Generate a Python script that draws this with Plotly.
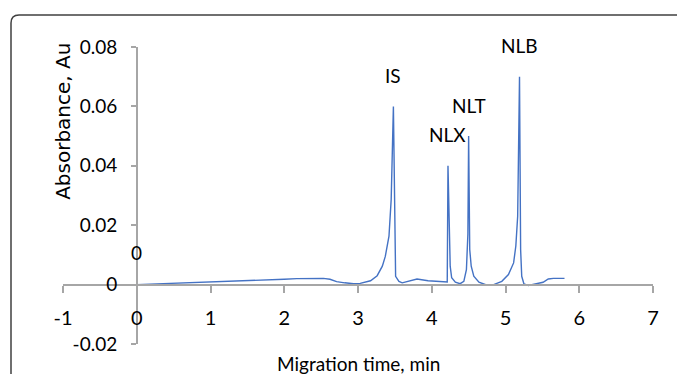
import plotly.graph_objects as go

# ---- data ----
time_min = [0, 0.5, 1.0, 1.5, 1.72, 2.0, 2.17, 2.4, 2.53, 2.62,
            2.71, 2.82, 2.94, 3.03, 3.17, 3.26, 3.33, 3.37, 3.42, 3.45,
            3.48, 3.51, 3.555, 3.60, 3.70, 3.80, 3.95, 4.10, 4.21, 4.22,
            4.235, 4.25, 4.27, 4.32, 4.385, 4.435, 4.47, 4.49, 4.50, 4.515,
            4.535, 4.57, 4.64, 4.75, 4.84, 4.95, 5.04, 5.11, 5.14, 5.165,
            5.19, 5.205, 5.22, 5.25, 5.31, 5.42, 5.51, 5.58, 5.65, 5.80]
absorbance = [0, 0.0004, 0.0008, 0.0012, 0.0016, 0.0018, 0.002, 0.002, 0.0021, 0.0018,
              0.001, 0.0006, 0.0003, 0.0004, 0.0013, 0.003, 0.0062, 0.0095, 0.0163, 0.0287,
              0.06, 0.0028, 0.0011, 0.0006, 0.0012, 0.0019, 0.0013, 0.001, 0.0009, 0.04,
              0.023, 0.0062, 0.0023, 0.0008, 0.0003, 0.0011, 0.005, 0.017, 0.05, 0.0118,
              0.0062, 0.0028, 0.0008, -0.0002, 0.0, 0.0011, 0.0034, 0.0073, 0.013, 0.023,
              0.07, 0.0118, 0.0028, 0.0002, -0.0003, 0.0002, 0.0008, 0.0019, 0.0021, 0.0021]

peak_names = ["IS", "NLX", "NLT", "NLB"]
peak_times = [3.48, 4.22, 4.50, 5.19]
peak_heights = [0.06, 0.04, 0.05, 0.07]

x_ticks = [-1, 0, 1, 2, 3, 4, 5, 6, 7]
x_tick_labels = ["-1", "0", "1", "2", "3", "4", "5", "6", "7"]
y_ticks = [-0.02, 0, 0.02, 0.04, 0.06, 0.08]
y_tick_labels = ["-0.02", "0", "0.02", "0.04", "0.06", "0.08"]

TICK_FONT = "Lato, Carlito, Calibri, sans-serif"
AXIS_COLOR = "#a6a6a6"

fig = go.Figure()
fig.add_trace(go.Scatter(
    x=time_min, y=absorbance, mode="lines",
    line=dict(color="#4472C4", width=1.4),
    showlegend=False, hoverinfo="skip",
))

annotations = []
for name, t, h in zip(peak_names, peak_times, peak_heights):
    annotations.append(dict(x=t, y=h, xref="x", yref="y", text=name, showarrow=False,
                            yshift=31, xanchor="center", yanchor="middle",
                            font=dict(family=TICK_FONT, size=19, color="#000")))
# data label "0" on the first point
annotations.append(dict(x=time_min[0], y=absorbance[0], xref="x", yref="y", text="0",
                        showarrow=False, yshift=32, xanchor="center", yanchor="middle",
                        font=dict(family=TICK_FONT, size=19, color="#000")))
# axis titles
annotations.append(dict(x=0.5, y=-0.02, xref="paper", yref="y", text="Migration time, min",
                        showarrow=False, yshift=-19, xanchor="center", yanchor="middle",
                        font=dict(family=TICK_FONT, size=19, color="#000")))
annotations.append(dict(x=0.0, y=0.748, xref="paper", yref="paper", text="Absorbance, Au",
                        showarrow=False, textangle=-90, xanchor="center", yanchor="middle",
                        font=dict(family="DejaVu Sans, Verdana, sans-serif", size=20, color="#000")))

# rounded frame (top-left corner visible, continues past right/bottom edges)
W, H = 590, 297
L, T = 11, 15
r = 8
def px(xp):
    return (xp - 63) / W
def py(yp):
    return (344 - yp) / H
frame_path = (f"M {px(L)},{py(400)} L {px(L)},{py(T + r)} "
              f"Q {px(L)},{py(T)} {px(L + r)},{py(T)} L {px(700)},{py(T)}")

fig.update_layout(
    width=677, height=374,
    margin=dict(l=63, r=24, t=47, b=30),
    paper_bgcolor="white", plot_bgcolor="white",
    xaxis=dict(range=[-1, 7], tickvals=x_ticks, ticktext=x_tick_labels,
               anchor="free", position=0.2, showgrid=False, zeroline=False,
               showline=True, linecolor=AXIS_COLOR, linewidth=2,
               ticks="outside", ticklen=7, tickwidth=1.5, tickcolor=AXIS_COLOR,
               ticklabelstandoff=8,
               tickfont=dict(family=TICK_FONT, size=20, color="#000")),
    yaxis=dict(range=[-0.02, 0.08], tickvals=y_ticks, ticktext=y_tick_labels,
               anchor="free", position=0.125, showgrid=False, zeroline=False,
               showline=True, linecolor=AXIS_COLOR, linewidth=1.5,
               ticks="outside", ticklen=5, tickwidth=1.5, tickcolor=AXIS_COLOR,
               ticklabelstandoff=10,
               tickfont=dict(family=TICK_FONT, size=19, color="#000")),
    annotations=annotations,
    shapes=[dict(type="path", xref="paper", yref="paper", path=frame_path,
                 line=dict(color="#404040", width=1.5), layer="above")],
)

fig.write_html("out.html")
